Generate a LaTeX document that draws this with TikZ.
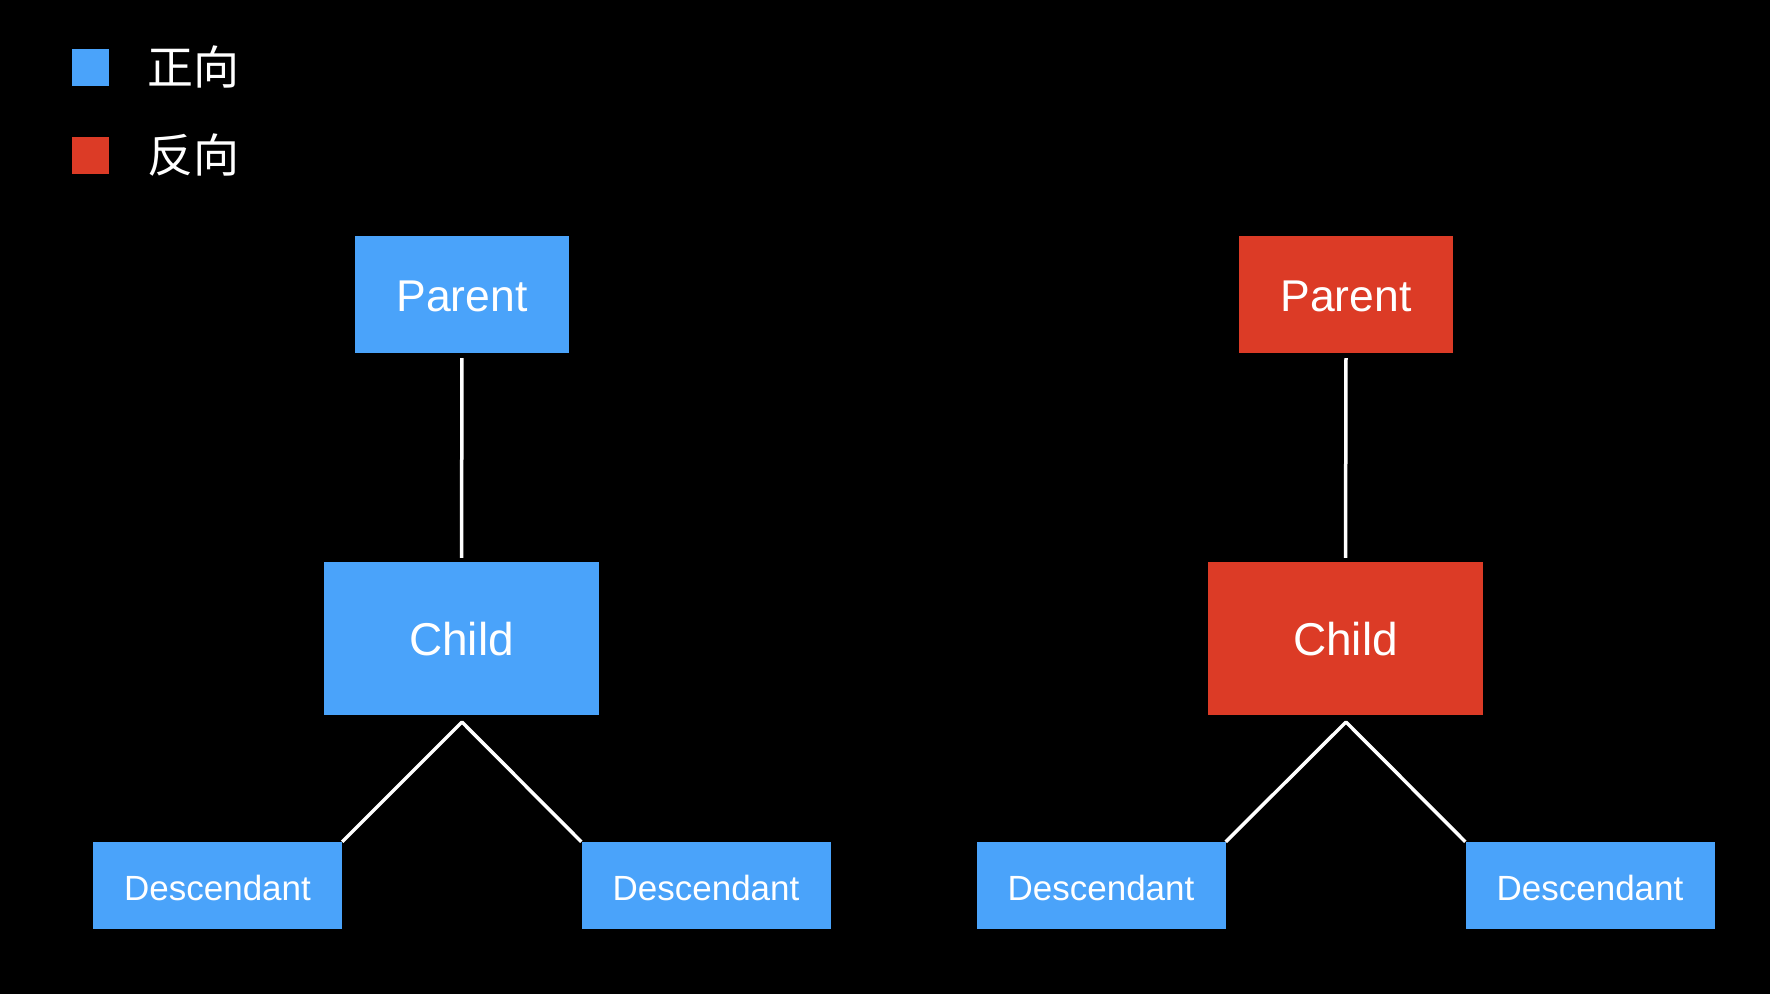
\documentclass[tikz,border=0pt]{standalone}
\usepackage{fontspec}
\setmainfont{Liberation Sans}
\newfontfamily\cjk{Noto Sans CJK SC}
\definecolor{fwdblue}{RGB}{74,163,250}
\definecolor{revred}{RGB}{220,59,38}
\begin{document}
\begin{tikzpicture}[x=1pt,y=-1pt,
  box/.style={rectangle, inner sep=0pt, text=white},
  parentbox/.style={box, minimum width=214pt, minimum height=117pt, text height=33pt, text depth=0pt, font=\fontsize{44.5}{44.5}\selectfont},
  childbox/.style={box, minimum width=275pt, minimum height=153pt, text height=34pt, text depth=0pt, font=\fontsize{46}{46}\selectfont},
  descbox/.style={box, fill=fwdblue, minimum width=249pt, minimum height=87pt, text height=29pt, text depth=0pt, font=\fontsize{35}{35}\selectfont},
  legendsq/.style={rectangle, inner sep=0pt, minimum size=37pt},
  legendtxt/.style={anchor=west, inner sep=0pt, text=white, font=\cjk\fontsize{46}{46}\selectfont},
  conn/.style={draw=white, line width=3.5pt, line join=round},
]
\fill[black] (0,0) rectangle (1770,994);
\useasboundingbox (0,0) rectangle (1770,994);

% legend
\node[legendsq, fill=fwdblue] (lb) at (90.5,67) {};
\node[legendtxt] (lbt) at (147,67) {正向};
\node[legendsq, fill=revred] (lr) at (90.5,155) {};
\node[legendtxt] (lrt) at (147,155) {反向};

% left tree
\node[parentbox, fill=fwdblue] (p1) at (462,294.5) {Parent};
\node[childbox, fill=fwdblue] (c1) at (461.5,638.5) {Child};
\node[descbox] (d1) at (217.5,885.5) {Descendant};
\node[descbox] (d2) at (706,885.5) {Descendant};
\coordinate (a1) at (462,722);
\draw[conn, shorten <=5pt, shorten >=4pt] (p1.south) -- (c1.north);
\draw[conn] (d1.north east) -- (a1) -- (d2.north west);

% right tree
\node[parentbox, fill=revred] (p2) at (1346,294.5) {Parent};
\node[childbox, fill=revred] (c2) at (1345.5,638.5) {Child};
\node[descbox] (d3) at (1101,885.5) {Descendant};
\node[descbox] (d4) at (1590,885.5) {Descendant};
\coordinate (a2) at (1346,722);
\draw[conn, shorten <=5pt, shorten >=4pt] (p2.south) -- (c2.north);
\draw[conn] (d3.north east) -- (a2) -- (d4.north west);
\end{tikzpicture}
\end{document}
